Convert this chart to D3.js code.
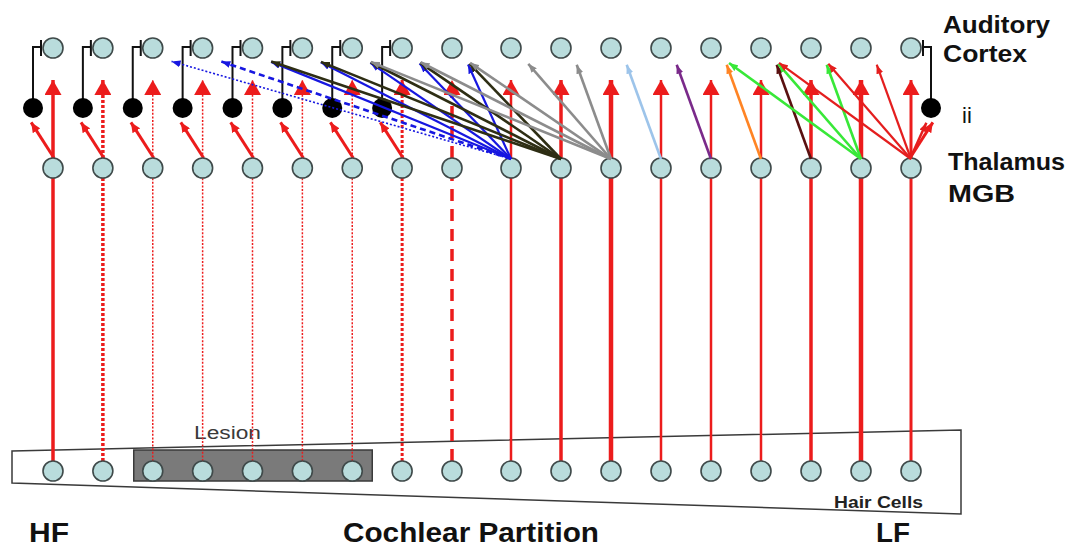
<!DOCTYPE html>
<html>
<head>
<meta charset="utf-8">
<script src="https://cdn.jsdelivr.net/npm/d3@7/dist/d3.min.js"></script>
<style>
  body { margin: 0; background: #fff; }
  svg { display: block; font-family: "Liberation Sans", Arial, sans-serif; }
</style>
</head>
<body>
<div id="app"></div>
<script>
// 18 tonotopic channels, HF (left) -> LF (right)
var channels = d3.range(18);
var pathway = ['solid', 'dotted', 'fine', 'fine', 'fine', 'fine', 'fine', 'dotted', 'dashed',
               'solid', 'solid', 'solid', 'solid', 'solid', 'solid', 'solid', 'solid', 'solid'];
var strength = [3.5, 3.5, 1.5, 1.5, 1.5, 1.5, 1.5, 3, 3.5, 2.5, 3.5, 4.5, 2.5, 2.5, 2.5, 3.5, 4.5, 3];
var lesioned = [2, 3, 4, 5, 6];
var inhibLeft = [0, 1, 2, 3, 4, 5, 6, 7];
var inhibRight = [17];
var levels = ['cortex', 'ii', 'thalamus', 'hair'];

// thalamo-cortical divergent projections: [from channel, to channel, group, kind]
var projections = [
  [9, 2, 'blue', 'weak'], [9, 3, 'blue', 'partial'], [9, 4, 'blue'], [9, 5, 'blue'],
  [9, 6, 'blue'], [9, 7, 'blue'], [9, 8, 'blue'],
  [10, 4, 'olive'], [10, 5, 'olive'], [10, 6, 'olive'], [10, 7, 'olive'], [10, 8, 'olive'],
  [11, 6, 'gray'], [11, 7, 'gray'], [11, 8, 'gray'], [11, 9, 'gray'], [11, 10, 'gray'],
  [12, 11, 'lightblue'],
  [13, 12, 'purple'],
  [14, 13, 'orange'],
  [15, 14, 'maroon'],
  [16, 13, 'green'], [16, 14, 'green'], [16, 15, 'green'],
  [17, 14, 'red'], [17, 15, 'red'], [17, 16, 'red']
];
var groupColor = {
  blue: '#1717e0', olive: '#2e2e14', gray: '#8c8c8c', lightblue: '#9dc4ea',
  purple: '#7a2a8a', orange: '#ff8424', maroon: '#5a1010', green: '#38e838', red: '#e41e1e'
};

var sideLabels = [['Auditory', 33, 943, 107], ['Cortex', 62, 943, 84], ['ii', 123, 962, 0],
                  ['Thalamus', 170, 948, 117], ['MGB', 202, 948, 67]];
var axisLabels = [['HF', 29, 40], ['Cochlear Partition', 343, 256], ['LF', 876, 34]];

var width = 1071, height = 548, r = 10;
var RED = '#ec1c1c';

var x = d3.scaleLinear().domain([0, 8, 9, 17]).range([53, 452, 511, 911]);
var y = d3.scaleOrdinal().domain(levels).range([48, 108, 168, 471]);

var svg = d3.select('#app').append('svg').attr('width', width).attr('height', height);
var defs = svg.append('defs');

function dashFor(s) {
  return s === 'dotted' ? '3,2' : s === 'fine' ? '2,1.6' : s === 'dashed' ? '12,8' : null;
}

function marker(id, color, len, wid) {
  defs.append('marker').attr('id', id)
    .attr('viewBox', '0 0 ' + len + ' ' + wid)
    .attr('refX', len).attr('refY', wid / 2)
    .attr('markerWidth', len).attr('markerHeight', wid)
    .attr('markerUnits', 'userSpaceOnUse').attr('orient', 'auto')
    .append('path').attr('d', 'M0,0L' + len + ',' + wid / 2 + 'L0,' + wid + 'Z').attr('fill', color);
}
marker('big', RED, 15, 17);
marker('mid', RED, 10, 9);
Object.keys(groupColor).forEach(function (k) { marker('m-' + k, groupColor[k], 9, 7); });

// draws a line that stops a bit short, marker tip lands on (x2,y2)
function arrow(g, x1, y1, x2, y2, back) {
  var dx = x2 - x1, dy = y2 - y1, L = Math.sqrt(dx * dx + dy * dy);
  return g.append('line').attr('x1', x1).attr('y1', y1)
    .attr('x2', x2 - dx / L * back).attr('y2', y2 - dy / L * back);
}

// cochlear partition
var base = svg.append('g');
base.append('polygon')
  .attr('points', [[12, 451], [961, 430], [961, 514], [12, 483]].join(' '))
  .attr('fill', '#fff').attr('stroke', '#3a3a3a').attr('stroke-width', 1.5);
base.append('rect')
  .attr('x', x(d3.min(lesioned)) - 19).attr('y', 450)
  .attr('width', x(d3.max(lesioned)) - x(d3.min(lesioned)) + 39).attr('height', 31)
  .attr('fill', '#7a7a7a').attr('stroke', '#3a3a3a').attr('stroke-width', 1.5);
base.append('text').attr('x', 194).attr('y', 439).attr('font-size', 18).attr('fill', '#3a3a3a')
  .attr('textLength', 67).attr('lengthAdjust', 'spacingAndGlyphs').text('Lesion');
base.append('text').attr('x', 834).attr('y', 508).attr('font-size', 17).attr('font-weight', 'bold')
  .attr('fill', '#222').attr('textLength', 89).attr('lengthAdjust', 'spacingAndGlyphs').text('Hair Cells');

// ascending pathways: hair cell -> thalamus
var asc = svg.append('g').attr('stroke', RED).attr('fill', 'none');
channels.forEach(function (i) {
  asc.append('line').attr('x1', x(i)).attr('x2', x(i))
    .attr('y1', y('hair') - r).attr('y2', y('thalamus') + r)
    .attr('stroke-width', strength[i]).attr('stroke-dasharray', dashFor(pathway[i]));
});

// thalamus -> cortex (same channel)
var tc = svg.append('g').attr('stroke', RED).attr('fill', 'none');
channels.forEach(function (i) {
  arrow(tc, x(i), y('thalamus') - r, x(i), y('cortex') + 22, 10)
    .attr('stroke-width', strength[i]).attr('stroke-dasharray', dashFor(pathway[i]))
    .attr('marker-end', 'url(#big)');
});

// inhibitory interneurons (ii)
var inh = svg.append('g');
function interneuron(i, side) {
  var cx = x(i), bx = cx + side * 20, tx = cx + side * 12;
  arrow(inh, cx - side * 1, y('thalamus') - r, bx + side * 4, y('ii') + 11, 4)
    .attr('stroke', RED).attr('stroke-width', 3).attr('marker-end', 'url(#mid)');
  inh.append('path')
    .attr('d', 'M' + bx + ',' + y('ii') + 'V' + (y('cortex') - 1) + 'H' + tx +
               'M' + tx + ',' + (y('cortex') - 8) + 'V' + (y('cortex') + 8))
    .attr('fill', 'none').attr('stroke', '#111').attr('stroke-width', 2);
  inh.append('circle').attr('cx', bx).attr('cy', y('ii')).attr('r', 10).attr('fill', '#000');
}
inhibLeft.forEach(function (i) { interneuron(i, -1); });
inhibRight.forEach(function (i) { interneuron(i, 1); });

// neurons
var cells = svg.append('g').attr('fill', '#b9dcdc').attr('stroke', '#3f4a4a').attr('stroke-width', 1.6);
['cortex', 'thalamus', 'hair'].forEach(function (lv) {
  cells.selectAll(null).data(channels).enter().append('circle')
    .attr('cx', function (d) { return x(d); }).attr('cy', y(lv)).attr('r', r);
});

// divergent thalamo-cortical projections
var fan = svg.append('g').attr('fill', 'none');
projections.forEach(function (p) {
  var w = p[2] === 'blue' || p[2] === 'red' ? 2.2 : 2.6;
  var ln = arrow(fan, x(p[0]), y('thalamus') - r + 1, x(p[1]) + 14, 60, 5)
    .attr('stroke', groupColor[p[2]]).attr('stroke-width', w)
    .attr('marker-end', 'url(#m-' + p[2] + ')');
  if (p[3] === 'weak') ln.attr('stroke-dasharray', '2,2').attr('stroke-width', 1.6);
  if (p[3] === 'partial') ln.attr('stroke-dasharray', '6,4').attr('stroke-width', 2.6);
});
// last channel also drives its own interneuron
inhibRight.forEach(function (i) {
  arrow(fan, x(i) - 1, y('thalamus') - r + 1, x(i) + 17, y('ii') + 11, 4)
    .attr('stroke', groupColor.red).attr('stroke-width', 2.5).attr('marker-end', 'url(#m-red)');
});

// labels
var lab = svg.append('g').attr('fill', '#111');
sideLabels.forEach(function (t) {
  var el = lab.append('text').attr('x', t[2]).attr('y', t[1]).text(t[0]);
  if (t[0] === 'ii') el.attr('font-size', 22);
  else el.attr('font-size', 23).attr('font-weight', 'bold')
    .attr('textLength', t[3]).attr('lengthAdjust', 'spacingAndGlyphs');
});
axisLabels.forEach(function (t) {
  lab.append('text').attr('x', t[1]).attr('y', 542).attr('font-size', 27).attr('font-weight', 'bold')
    .attr('textLength', t[2]).attr('lengthAdjust', 'spacingAndGlyphs').text(t[0]);
});
</script>
</body>
</html>
